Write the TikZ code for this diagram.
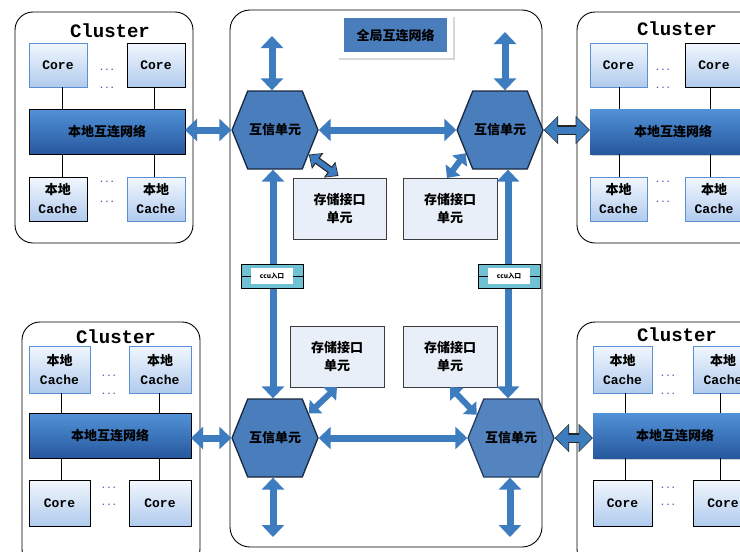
\documentclass[tikz,border=0pt]{standalone}
\usepackage{fontspec}
\newfontfamily\cjk{Noto Sans CJK SC}
\newfontfamily\monof{Liberation Mono}
\usetikzlibrary{arrows.meta,shapes.symbols,shadows,calc}

\definecolor{arrowblue}{RGB}{62,124,192}
\definecolor{hexblue}{RGB}{74,125,188}
\definecolor{hexline}{RGB}{25,40,62}
\definecolor{barTop}{RGB}{82,146,216}
\definecolor{barBot}{RGB}{38,88,158}
\definecolor{boxTop}{RGB}{242,247,253}
\definecolor{boxBot}{RGB}{176,203,238}
\definecolor{boxBlue}{RGB}{92,142,210}
\definecolor{storeFill}{RGB}{232,239,248}
\definecolor{storeLine}{RGB}{60,60,60}
\definecolor{tealFill}{RGB}{112,193,212}
\definecolor{dotcol}{RGB}{95,85,175}

\tikzset{
  clusterframe/.style={draw=black, line width=0.9pt, rounded corners=18pt, fill=white,
    anchor=north west, inner sep=0pt, outer sep=0pt},
  centreframe/.style={clusterframe, rounded corners=20pt},
  clustertitle/.style={font=\monof\bfseries\fontsize{19}{19}\selectfont, inner sep=0pt},
  unit/.style={anchor=north west, inner sep=0pt, outer sep=0pt, top color=boxTop,
    bottom color=boxBot, line width=0.9pt, align=center,
    font=\monof\bfseries\fontsize{13}{19}\selectfont},
  unitblue/.style={unit, draw=boxBlue},
  unitblack/.style={unit, draw=black},
  netbar/.style={anchor=north west, inner sep=0pt, outer sep=0pt, top color=barTop,
    bottom color=barBot, font=\cjk\bfseries\fontsize{13}{13}\selectfont},
  netbarframed/.style={netbar, draw=black, line width=1pt},
  netbarplain/.style={netbar, drop shadow={opacity=0.35, shadow xshift=1.5pt, shadow yshift=-2pt}},
  hexunit/.style={signal, signal to=east and west, signal pointer angle=136,
    fill=hexblue, draw=hexline, line width=1.3pt, minimum width=86pt,
    minimum height=78pt, inner sep=0pt, font=\cjk\bfseries\fontsize{13}{13}\selectfont},
  storeunit/.style={anchor=north west, draw=storeLine, fill=storeFill, line width=0.9pt,
    inner sep=0pt, outer sep=0pt, align=center, font=\cjk\bfseries\fontsize{13}{18}\selectfont},
  dotmark/.style={text=dotcol, font=\monof\bfseries\fontsize{9}{9}\selectfont, inner sep=0pt},
  link/.style={draw=black, line width=0.8pt},
  fat/.style={draw=arrowblue, line width=7pt,
    {Triangle[length=12pt,width=22pt]}-{Triangle[length=12pt,width=22pt]}},
  slim/.style={draw=arrowblue, line width=6pt,
    {Triangle[length=10pt,width=18pt]}-{Triangle[length=10pt,width=18pt]}},
  rimout/.style={draw=black!85, line width=9.5pt,
    {Triangle[length=14.5pt,width=28pt]}-{Triangle[length=14.5pt,width=28pt]}},
  rimin/.style={draw=arrowblue, line width=7pt, shorten <=1.2pt, shorten >=1.2pt,
    {Triangle[length=12.5pt,width=25pt]}-{Triangle[length=12.5pt,width=25pt]}},
  rimoutslim/.style={draw=black!85, line width=7.5pt,
    {Triangle[length=11pt,width=19pt]}-{Triangle[length=11pt,width=19pt]}},
  riminslim/.style={draw=arrowblue, line width=5pt, shorten <=1.3pt, shorten >=1.3pt,
    {Triangle[length=8.5pt,width=15.5pt]}-{Triangle[length=8.5pt,width=15.5pt]}},
  portbox/.style={draw=black, fill=tealFill, line width=0.8pt, minimum width=62pt,
    minimum height=24pt, inner sep=0pt, outer sep=0pt},
  portlabel/.style={fill=white, minimum width=42pt, minimum height=16pt, inner sep=0pt,
    font=\cjk\bfseries\fontsize{6.5}{6.5}\selectfont},
}

\begin{document}
\begin{tikzpicture}[x=1pt,y=-1pt]
\clip (0,0) rectangle (740,552);
\fill[white] (0,0) rectangle (740,552);

% ---------- central global network frame ----------
\node[centreframe, minimum width=312pt, minimum height=537pt] (centre) at (230,10) {};
\node[anchor=north west, fill=white, minimum width=116pt, minimum height=43pt, inner sep=0pt,
      drop shadow={opacity=0.3, shadow xshift=1.5pt, shadow yshift=-2pt}] (gtitlebg) at (337,15) {};
\node[anchor=north west, fill=hexblue, minimum width=103pt, minimum height=34pt, inner sep=0pt,
      font=\cjk\bfseries\fontsize{13}{13}\selectfont] (gtitle) at (344,18) {全局互连网络};

% ---------- top-left cluster ----------
\node[clusterframe, minimum width=178pt, minimum height=231pt] (tlF) at (15,12) {};
\node[clustertitle] (tlT) at (110,31) {Cluster};
\node[unitblue,  minimum width=58pt, minimum height=44pt] (tlC1) at (29,43) {Core};
\node[unitblack, minimum width=58pt, minimum height=44pt] (tlC2) at (127,43) {Core};
\node[netbarframed, minimum width=156pt, minimum height=45pt] (tlBar) at (29,109) {本地互连网络};
\node[unitblack, minimum width=58pt, minimum height=44pt] (tlK1) at (29,177) {{\cjk 本地}\\Cache};
\node[unitblue,  minimum width=58pt, minimum height=44pt] (tlK2) at (127,177) {{\cjk 本地}\\Cache};
\node[dotmark] (tld1) at (107,70) {...};
\node[dotmark] (tld2) at (107,88) {...};
\node[dotmark] (tld3) at (107,182) {...};
\node[dotmark] (tld4) at (107,202) {...};
\draw[link] ([xshift=4pt]tlC1.south) -- ([xshift=4pt]tlC1.south |- tlBar.north);
\draw[link] ([xshift=-2pt]tlC2.south) -- ([xshift=-2pt]tlC2.south |- tlBar.north);
\draw[link] ([xshift=4pt]tlK1.north) -- ([xshift=4pt]tlK1.north |- tlBar.south);
\draw[link] ([xshift=-2pt]tlK2.north) -- ([xshift=-2pt]tlK2.north |- tlBar.south);

% ---------- top-right cluster ----------
\node[clusterframe, minimum width=200pt, minimum height=231pt] (trF) at (577,12) {};
\node[clustertitle] (trT) at (677,29) {Cluster};
\node[unitblue,  minimum width=57pt, minimum height=44pt] (trC1) at (590,43) {Core};
\node[unitblack, minimum width=58pt, minimum height=44pt] (trC2) at (685,43) {Core};
\node[netbarplain, minimum width=200pt, minimum height=45pt] (trBar) at (590,109) {\hspace*{-34pt}本地互连网络};
\node[unitblue, minimum width=57pt, minimum height=44pt] (trK1) at (590,177) {{\cjk 本地}\\Cache};
\node[unitblue, minimum width=58pt, minimum height=44pt] (trK2) at (685,177) {{\cjk 本地}\\Cache};
\node[dotmark] (trd1) at (663,70) {...};
\node[dotmark] (trd2) at (663,88) {...};
\node[dotmark] (trd3) at (663,182) {...};
\node[dotmark] (trd4) at (663,202) {...};
\draw[link] ([xshift=1pt]trC1.south) -- ([xshift=1pt]trC1.south |- trBar.north);
\draw[link] ([xshift=-4pt]trC2.south) -- ([xshift=-4pt]trC2.south |- trBar.north);
\draw[link] ([xshift=1pt]trK1.north) -- ([xshift=1pt]trK1.north |- trBar.south);
\draw[link] ([xshift=-4pt]trK2.north) -- ([xshift=-4pt]trK2.north |- trBar.south);

% ---------- bottom-left cluster ----------
\node[clusterframe, minimum width=178pt, minimum height=245pt] (blF) at (22,322) {};
\node[clustertitle] (blT) at (116,337) {Cluster};
\node[unitblue, minimum width=61pt, minimum height=47pt] (blK1) at (29,346) {{\cjk 本地}\\Cache};
\node[unitblue, minimum width=62pt, minimum height=47pt] (blK2) at (129,346) {{\cjk 本地}\\Cache};
\node[netbarframed, minimum width=162pt, minimum height=45pt] (blBar) at (29,413) {本地互连网络};
\node[unitblack, minimum width=61pt, minimum height=46pt] (blC1) at (29,480) {Core};
\node[unitblack, minimum width=62pt, minimum height=46pt] (blC2) at (129,480) {Core};
\node[dotmark] (bld1) at (109,376) {...};
\node[dotmark] (bld2) at (109,394) {...};
\node[dotmark] (bld3) at (109,488) {...};
\node[dotmark] (bld4) at (109,505) {...};
\draw[link] ([xshift=2pt]blK1.south) -- ([xshift=2pt]blK1.south |- blBar.north);
\draw[link] ([xshift=-1pt]blK2.south) -- ([xshift=-1pt]blK2.south |- blBar.north);
\draw[link] ([xshift=2pt]blC1.north) -- ([xshift=2pt]blC1.north |- blBar.south);
\draw[link] ([xshift=-1pt]blC2.north) -- ([xshift=-1pt]blC2.north |- blBar.south);

% ---------- bottom-right cluster ----------
\node[clusterframe, minimum width=200pt, minimum height=245pt] (brF) at (577,322) {};
\node[clustertitle] (brT) at (677,335) {Cluster};
\node[unitblue, minimum width=59pt, minimum height=47pt] (brK1) at (593,346) {{\cjk 本地}\\Cache};
\node[unitblue, minimum width=60pt, minimum height=47pt] (brK2) at (693,346) {{\cjk 本地}\\Cache};
\node[netbarplain, minimum width=200pt, minimum height=45pt] (brBar) at (593,413) {\hspace*{-36pt}本地互连网络};
\node[unitblack, minimum width=59pt, minimum height=46pt] (brC1) at (593,480) {Core};
\node[unitblack, minimum width=60pt, minimum height=46pt] (brC2) at (693,480) {Core};
\node[dotmark] (brd1) at (668,376) {...};
\node[dotmark] (brd2) at (668,394) {...};
\node[dotmark] (brd3) at (668,488) {...};
\node[dotmark] (brd4) at (668,505) {...};
\draw[link] ([xshift=3pt]brK1.south) -- ([xshift=3pt]brK1.south |- brBar.north);
\draw[link] ([xshift=-3pt]brK2.south) -- ([xshift=-3pt]brK2.south |- brBar.north);
\draw[link] ([xshift=3pt]brC1.north) -- ([xshift=3pt]brC1.north |- brBar.south);
\draw[link] ([xshift=-3pt]brC2.north) -- ([xshift=-3pt]brC2.north |- brBar.south);

% ---------- storage interface units ----------
\node[storeunit, minimum width=93pt, minimum height=61pt] (stTL) at (293,178) {存储接口\\单元};
\node[storeunit, minimum width=94pt, minimum height=61pt] (stTR) at (403,178) {存储接口\\单元};
\node[storeunit, minimum width=94pt, minimum height=61pt] (stBL) at (290,326) {存储接口\\单元};
\node[storeunit, minimum width=94pt, minimum height=61pt] (stBR) at (403,326) {存储接口\\单元};

% ---------- communication units ----------
\node[hexunit] (hexTL) at (275,130) {互信单元};
\node[hexunit] (hexTR) at (500,130) {互信单元};
\node[hexunit] (hexBL) at (275,438) {互信单元};
\node[hexunit, fill opacity=0.94, text opacity=1, draw=hexline!75!hexblue] (hexBR) at (511,438) {互信单元};

% free ends of the outward links
\coordinate (tlUp) at (272,36);
\coordinate (trUp) at (505,32);
\coordinate (blDown) at (273,537);
\coordinate (brDown) at (510,537);

% ---------- global network links ----------
\draw[fat] (tlUp) -- ([xshift=-3pt]hexTL.north);
\draw[fat] (trUp) -- ([xshift=5pt]hexTR.north);
\draw[fat] (hexTL.east) -- (hexTR.west);
\draw[fat] (hexBL.east) -- (hexBR.west);
\draw[fat] ([xshift=-2pt]hexTL.south) -- ([xshift=-2pt]hexBL.north);
\draw[fat] ([xshift=8pt]hexTR.south) -- ([xshift=-3pt]hexBR.north);
\draw[fat] ([xshift=-2pt]hexBL.south) -- (blDown);
\draw[fat] ([xshift=-1pt]hexBR.south) -- (brDown);

% cluster links
\draw[fat] (tlBar.east |- hexTL.west) -- (hexTL.west);
\draw[fat] (blBar.east |- hexBL.west) -- (hexBL.west);
\draw[rimout] (hexTR.east) -- (hexTR.east -| trBar.west);
\draw[rimin]  (hexTR.east) -- (hexTR.east -| trBar.west);
\draw[rimout] (hexBR.east) -- (hexBR.east -| brBar.west);
\draw[rimin]  (hexBR.east) -- (hexBR.east -| brBar.west);

% storage links
\draw[rimoutslim] (hexTL.-36) -- ([xshift=-1pt,yshift=2pt]stTL.north);
\draw[riminslim]  (hexTL.-36) -- ([xshift=-1pt,yshift=2pt]stTL.north);
\draw[slim] ([xshift=-3pt]stTR.north) -- (hexTR.214);
\draw[slim] (stBL.south) -- (hexBL.36);
\draw[slim] (stBR.south) -- (hexBR.146);

% ---------- port markers on the vertical links ----------
\node[portbox] (portL) at (272,276) {};
\draw[link] (portL.west) -- (portL.east);
\node[portlabel] (portLt) at (portL.center) {ccu入口};
\node[portbox] (portR) at (509,276) {};
\draw[link] (portR.west) -- (portR.east);
\node[portlabel] (portRt) at (portR.center) {ccu入口};
\end{tikzpicture}
\end{document}
